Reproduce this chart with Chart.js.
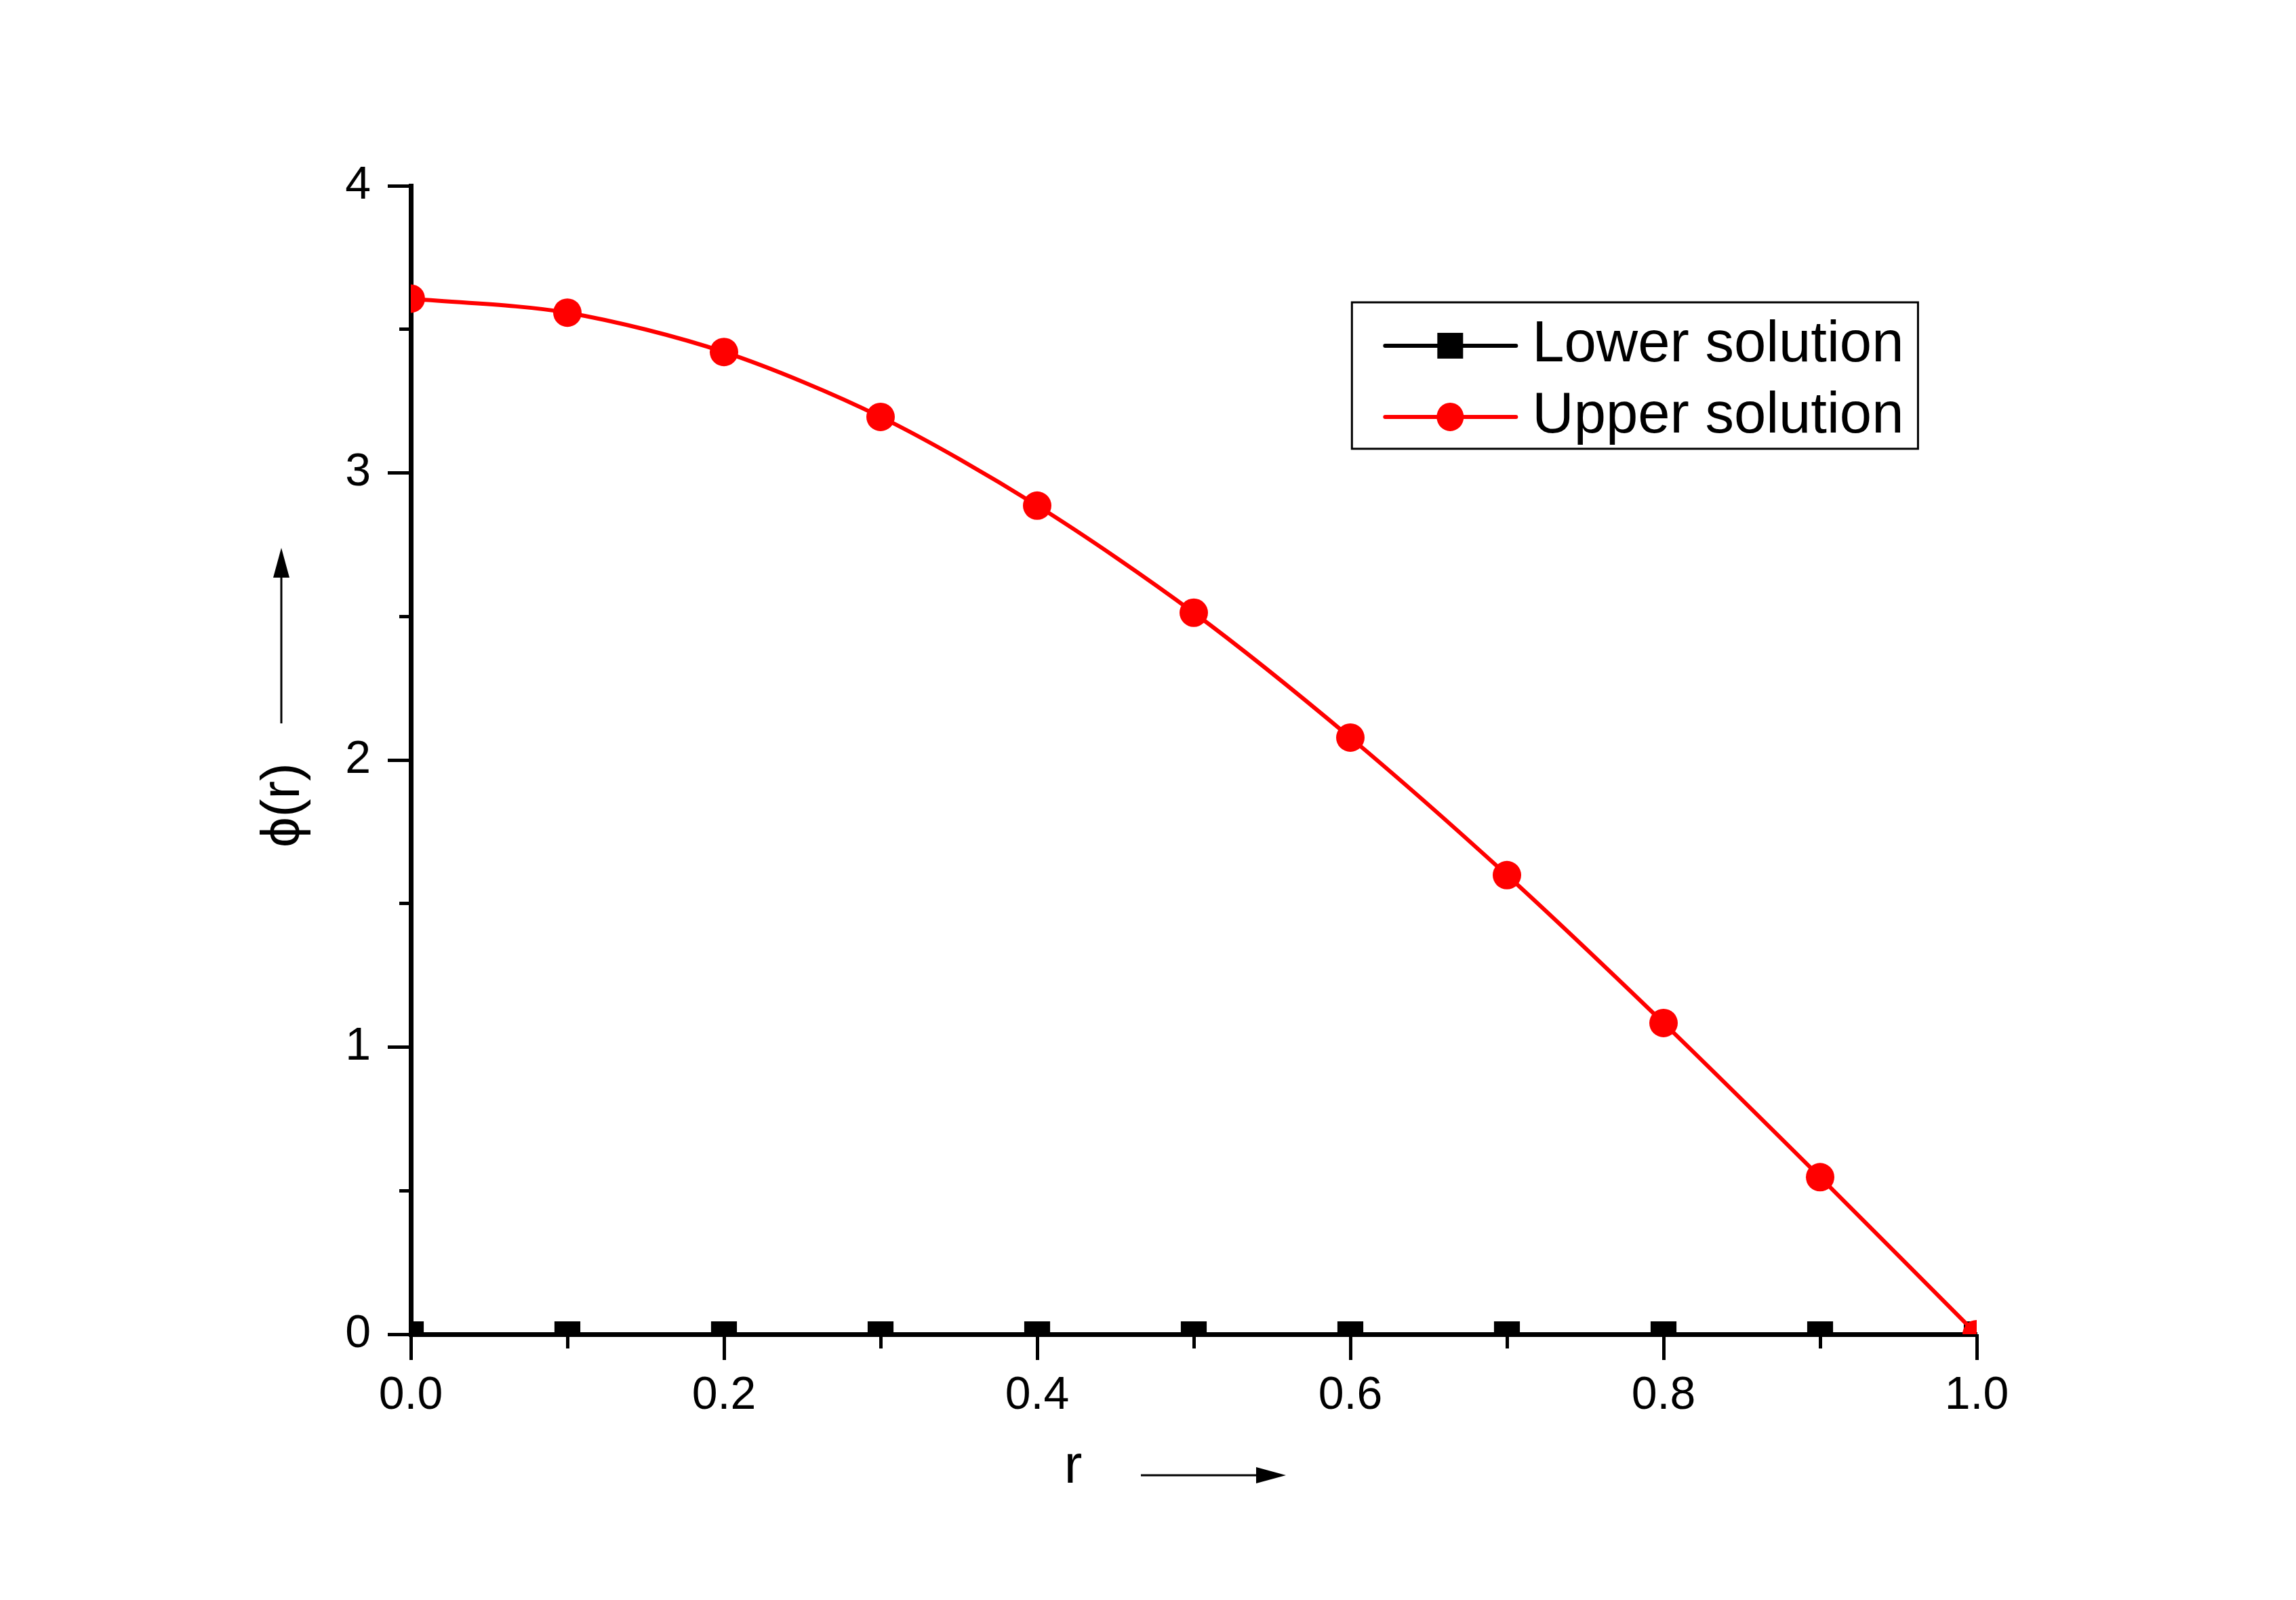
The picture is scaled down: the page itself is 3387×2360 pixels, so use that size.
<!DOCTYPE html>
<html>
<head>
<meta charset="utf-8">
<script src="https://cdn.jsdelivr.net/npm/chart.js@4.4.1/dist/chart.umd.min.js"></script>
<style>
    html, body { margin: 0; padding: 0; background: #ffffff; }
    #grafico { display: block; }
</style>
</head>
<body>
<canvas id="grafico" width="3387" height="2360"></canvas>
<script>
// values
const rValues = [0.0, 0.1, 0.2, 0.3, 0.4, 0.5, 0.6, 0.7, 0.8, 0.9, 1.0];
const lowerSolution = [0, 0, 0, 0, 0, 0, 0, 0, 0, 0, 0];
const upperSolution = [3.607, 3.558, 3.421, 3.195, 2.886, 2.513, 2.078, 1.599, 1.084, 0.547, 0.0];
const seriesNames = ['Lower solution', 'Upper solution'];
const xTickLabels = ['0.0', '0.2', '0.4', '0.6', '0.8', '1.0'];
const yTickLabels = ['0', '1', '2', '3', '4'];

const FONT = "'Liberation Sans', Arial, sans-serif";

window.onload = () => {
    drawChart();
}

// legend box inside the plot, line sample + marker + text
const legendBox = {
    id: 'legendBox',
    afterDraw(chart) {
        const { ctx, chartArea: a } = chart;
        const w = a.right - a.left;
        const h = a.bottom - a.top;
        const x0 = a.left + 0.601 * w;
        const y0 = a.top + 0.1015 * h;
        const bw = 0.3615 * w;
        const bh = 0.1275 * h;

        ctx.save();
        ctx.lineWidth = 3;
        ctx.strokeStyle = '#000';
        ctx.strokeRect(x0, y0, bw, bh);
        ctx.font = '85px ' + FONT;
        ctx.textBaseline = 'middle';
        ctx.textAlign = 'left';

        chart.data.datasets.forEach((ds, i) => {
            const y = y0 + 64 + i * 105;
            ctx.strokeStyle = ds.borderColor;
            ctx.lineWidth = ds.borderWidth;
            ctx.lineCap = 'round';
            ctx.beginPath();
            ctx.moveTo(x0 + 49, y);
            ctx.lineTo(x0 + 242, y);
            ctx.stroke();

            const cx = x0 + 145;
            ctx.fillStyle = ds.pointBackgroundColor;
            if (ds.pointStyle === 'rect') {
                ctx.fillRect(cx - 19, y - 19, 38, 38);
            } else {
                ctx.beginPath();
                ctx.ellipse(cx, y, 20, 21, 0, 0, 2 * Math.PI);
                ctx.fill();
            }
            ctx.fillStyle = '#000';
            ctx.fillText(ds.label, x0 + 266, y);
        });
        ctx.restore();
    }
};

function arrow(ctx, x1, y1, x2, y2) {
    const ang = Math.atan2(y2 - y1, x2 - x1);
    const len = 44, half = 12;
    const bx = x2 - len * Math.cos(ang);
    const by = y2 - len * Math.sin(ang);
    ctx.beginPath();
    ctx.moveTo(x1, y1);
    ctx.lineTo(bx, by);
    ctx.stroke();
    ctx.beginPath();
    ctx.moveTo(x2, y2);
    ctx.lineTo(bx + half * Math.sin(ang), by - half * Math.cos(ang));
    ctx.lineTo(bx - half * Math.sin(ang), by + half * Math.cos(ang));
    ctx.closePath();
    ctx.fill();
}

// the little arrows next to the axis titles
const axisArrows = {
    id: 'axisArrows',
    afterDraw(chart) {
        const { ctx, chartArea: a } = chart;
        const cx = (a.left + a.right) / 2;
        const cy = (a.top + a.bottom) / 2;
        ctx.save();
        ctx.strokeStyle = '#000';
        ctx.fillStyle = '#000';
        ctx.lineWidth = 3;
        arrow(ctx, cx - 78, a.bottom + 208, cx + 136, a.bottom + 208);
        arrow(ctx, a.left - 191, cy - 54, a.left - 191, cy - 313);
        ctx.restore();
    }
};

function drawChart() {
    const ctx = document.getElementById('grafico');

    const lowerPoints = rValues.map((r, i) => ({ x: r, y: lowerSolution[i] }));
    const upperPoints = rValues.map((r, i) => ({ x: r, y: upperSolution[i] }));

    const tickFont = { family: FONT, size: 68 };
    const titleFont = { family: FONT, size: 80 };

    new Chart(ctx, {
        type: 'line',
        data: {
            datasets: [{
                label: seriesNames[0],
                data: lowerPoints,
                xAxisID: 'x',
                yAxisID: 'y',
                borderColor: '#000000',
                backgroundColor: '#000000',
                pointBackgroundColor: '#000000',
                pointBorderColor: '#000000',
                borderWidth: 6,
                pointStyle: 'rect',
                pointRadius: 27,
                pointBorderWidth: 0,
                tension: 0,
                clip: 0,
                order: 1
            }, {
                label: seriesNames[1],
                data: upperPoints,
                xAxisID: 'x',
                yAxisID: 'y',
                borderColor: '#ff0000',
                backgroundColor: '#ff0000',
                pointBackgroundColor: '#ff0000',
                pointBorderColor: '#ff0000',
                borderWidth: 6,
                pointStyle: 'circle',
                pointRadius: 21,
                pointBorderWidth: 0,
                tension: 0.3,
                clip: 0,
                order: 0
            }]
        },
        options: {
            responsive: false,
            maintainAspectRatio: false,
            devicePixelRatio: 1,
            animation: false,
            layout: {
                padding: { top: 274, right: 471, bottom: 0, left: 0 }
            },
            plugins: {
                legend: { display: false },
                tooltip: { enabled: false }
            },
            scales: {
                x: {
                    type: 'linear',
                    position: 'bottom',
                    min: 0,
                    max: 1,
                    z: 1,
                    border: { display: true, color: '#000', width: 7 },
                    grid: { drawOnChartArea: false, drawTicks: true, tickLength: 38, tickWidth: 5, tickColor: '#000' },
                    ticks: {
                        stepSize: 0.2,
                        padding: 12,
                        color: '#000',
                        font: tickFont,
                        maxRotation: 0,
                        autoSkip: false,
                        callback: (v, i) => xTickLabels[i]
                    },
                    title: {
                        display: true,
                        text: 'r' + ' '.repeat(16),
                        color: '#000',
                        font: titleFont,
                        padding: { top: 0, bottom: 147 }
                    },
                    afterFit: s => { s.height = 392; }
                },
                xMinor: {
                    type: 'linear',
                    position: { y: 0 },
                    min: 0,
                    max: 1,
                    z: 1,
                    border: { display: false },
                    grid: { drawOnChartArea: false, drawTicks: true, tickLength: 21, tickWidth: 5, tickColor: '#000' },
                    ticks: { display: false, stepSize: 0.1, autoSkip: false }
                },
                y: {
                    type: 'linear',
                    position: 'left',
                    min: 0,
                    max: 4,
                    z: 1,
                    border: { display: true, color: '#000', width: 7 },
                    grid: { drawOnChartArea: false, drawTicks: true, tickLength: 34, tickWidth: 5, tickColor: '#000' },
                    ticks: {
                        stepSize: 1,
                        padding: 25,
                        color: '#000',
                        font: tickFont,
                        callback: (v, i) => yTickLabels[i]
                    },
                    title: {
                        display: true,
                        text: '\u03D5(r)' + ' '.repeat(6),
                        color: '#000',
                        font: titleFont,
                        padding: { top: 371, bottom: 0 }
                    },
                    afterFit: s => { s.width = 606; }
                },
                yMinor: {
                    type: 'linear',
                    position: { x: 0 },
                    min: 0,
                    max: 4,
                    z: 1,
                    border: { display: false },
                    grid: { drawOnChartArea: false, drawTicks: true, tickLength: 17, tickWidth: 5, tickColor: '#000' },
                    ticks: { display: false, stepSize: 0.5, autoSkip: false }
                }
            }
        },
        plugins: [legendBox, axisArrows]
    });
}
</script>
</body>
</html>
